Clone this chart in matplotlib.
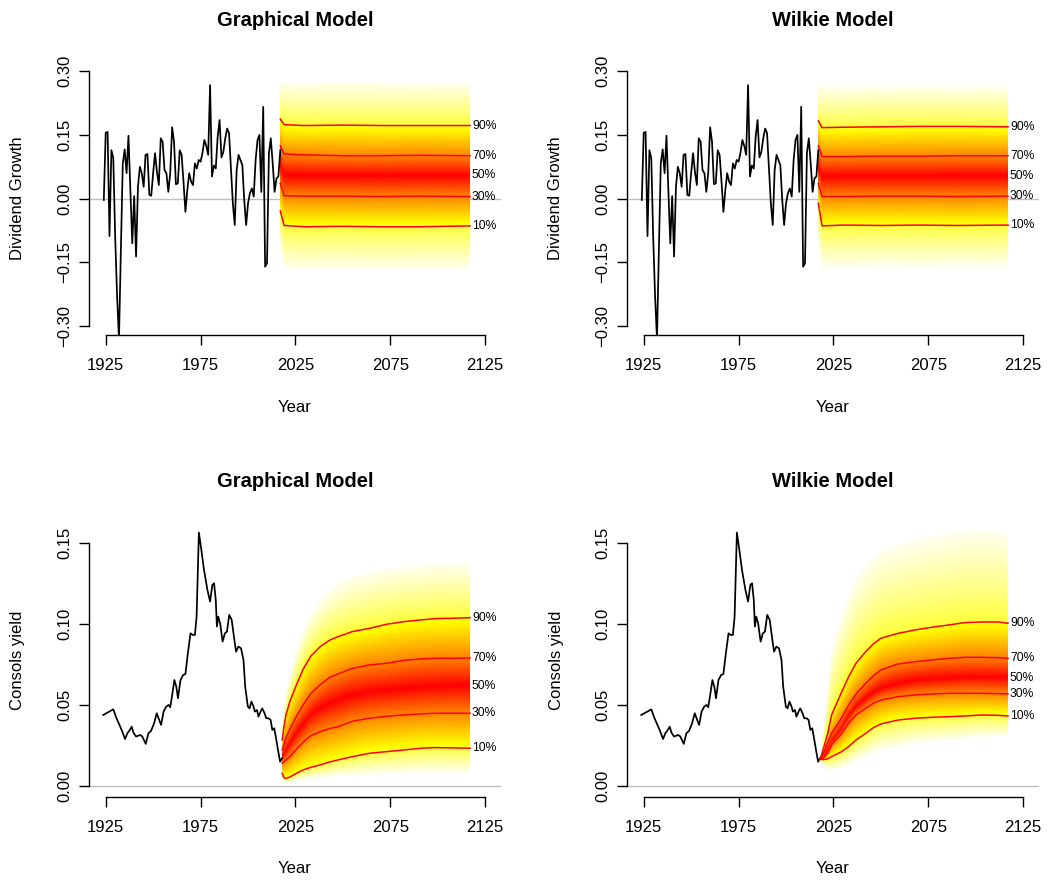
import numpy as np
import matplotlib
matplotlib.use("Agg")
import matplotlib.pyplot as plt

W, H = 1049, 888
plt.rcParams['font.family'] = ['Liberation Sans', 'DejaVu Sans']

# ---- history: dividend growth (annual) ----
div_years = np.arange(1924, 2018)
div_growth = [-0.003, 0.155, 0.157, -0.088, 0.114, 0.095, -0.090, -0.230, -0.330, -0.120,
              0.083, 0.116, 0.060, 0.148, 0.020, -0.105, 0.006, -0.136, 0.028, 0.075,
              0.060, 0.028, 0.103, 0.105, 0.009, 0.007, 0.060, 0.107, 0.063, 0.032,
              0.142, 0.134, 0.067, 0.060, 0.016, 0.060, 0.168, 0.134, 0.034, 0.036,
              0.114, 0.103, 0.040, -0.031, 0.020, 0.060, 0.040, 0.032, 0.083, 0.071,
              0.091, 0.087, 0.108, 0.138, 0.124, 0.103, 0.267, 0.052, 0.078, 0.071,
              0.146, 0.185, 0.097, 0.110, 0.142, 0.165, 0.154, 0.071, -0.011, -0.062,
              0.067, 0.103, 0.091, 0.079, -0.003, -0.062, -0.011, 0.013, 0.024, 0.005,
              0.091, 0.138, 0.150, 0.016, 0.216, -0.160, -0.152, 0.107, 0.142, 0.083,
              0.016, 0.048, 0.052, 0.114]

# ---- history: consols yield ----
cons_years = [1923.7, 1929.0, 1930.7, 1933.4, 1935.2, 1936.4, 1937.5, 1938.7, 1939.6, 1941.0,
              1943.1, 1944.3, 1946.1, 1947.5, 1948.9, 1950.5, 1951.9, 1953.2, 1954.2, 1955.5,
              1956.9, 1958.1, 1959.0, 1959.9, 1961.2, 1962.2, 1963.1, 1964.4, 1965.8, 1967.0,
              1968.3, 1969.7, 1970.9, 1972.0, 1972.9, 1974.1, 1975.4, 1976.8, 1978.6, 1980.0,
              1981.2, 1982.1, 1983.0, 1983.6, 1984.3, 1985.3, 1986.6, 1987.8, 1988.9, 1990.1,
              1991.4, 1992.8, 1993.7, 1994.9, 1996.3, 1997.6, 1998.5, 1999.9, 2000.8, 2001.8,
              2002.9, 2003.6, 2004.7, 2005.5, 2006.6, 2007.5, 2008.7, 2009.6, 2010.8, 2011.9,
              2012.8, 2013.8, 2014.6, 2015.8, 2016.9, 2017.9]
cons_yield = [0.0438, 0.0473, 0.0418, 0.0346, 0.0290, 0.0325, 0.0342, 0.0366, 0.0330, 0.0305,
              0.0315, 0.0305, 0.0260, 0.0325, 0.0340, 0.0387, 0.0449, 0.0407, 0.0377, 0.0459,
              0.0490, 0.0500, 0.0486, 0.0551, 0.0654, 0.0613, 0.0541, 0.0654, 0.0685, 0.0691,
              0.0819, 0.0942, 0.0932, 0.0932, 0.1045, 0.1564, 0.1457, 0.1333, 0.1210, 0.1138,
              0.1241, 0.1251, 0.1148, 0.0984, 0.1045, 0.1004, 0.0891, 0.0942, 0.0953, 0.1056,
              0.1025, 0.0901, 0.0829, 0.0860, 0.0850, 0.0778, 0.0613, 0.0490, 0.0479, 0.0521,
              0.0490, 0.0459, 0.0469, 0.0428, 0.0459, 0.0479, 0.0449, 0.0418, 0.0418, 0.0407,
              0.0346, 0.0356, 0.0305, 0.0222, 0.0150, 0.0171]

probs = [1, 10, 30, 50, 70, 90, 99]

# ---- fan quantiles: Graphical model, dividend growth ----
gd_years = [2017, 2019, 2030, 2050, 2070, 2090, 2117]
gd_q01 = [-0.115, -0.165, -0.168, -0.166, -0.168, -0.166, -0.167]
gd_q10 = [-0.029, -0.063, -0.066, -0.065, -0.066, -0.066, -0.064]
gd_q30 = [0.036, 0.007, 0.006, 0.006, 0.005, 0.006, 0.005]
gd_q50 = [0.080, 0.056, 0.055, 0.055, 0.054, 0.055, 0.055]
gd_q70 = [0.124, 0.105, 0.103, 0.101, 0.101, 0.102, 0.101]
gd_q90 = [0.187, 0.174, 0.172, 0.173, 0.172, 0.172, 0.172]
gd_q99 = [0.276, 0.275, 0.274, 0.276, 0.275, 0.274, 0.275]

# ---- fan quantiles: Wilkie model, dividend growth ----
wd_years = [2017, 2019, 2030, 2050, 2070, 2090, 2117]
wd_q01 = [-0.100, -0.160, -0.162, -0.160, -0.161, -0.160, -0.160]
wd_q10 = [-0.011, -0.064, -0.062, -0.063, -0.062, -0.063, -0.062]
wd_q30 = [0.036, 0.005, 0.005, 0.006, 0.006, 0.005, 0.006]
wd_q50 = [0.075, 0.053, 0.054, 0.054, 0.054, 0.054, 0.054]
wd_q70 = [0.124, 0.099, 0.099, 0.100, 0.100, 0.101, 0.101]
wd_q90 = [0.183, 0.167, 0.168, 0.169, 0.170, 0.170, 0.169]
wd_q99 = [0.270, 0.265, 0.266, 0.267, 0.266, 0.267, 0.266]

# ---- fan quantiles: Graphical model, consols yield ----
gc_years = [2018, 2019, 2020, 2022, 2025, 2029, 2033, 2038, 2043, 2047,
            2055, 2064, 2073, 2082, 2091, 2099, 2108, 2117]
gc_q01 = [0.003, 0.002, 0.0015, 0.002, 0.003, 0.004, 0.0045, 0.005, 0.0055, 0.006,
          0.0065, 0.007, 0.0075, 0.0078, 0.008, 0.008, 0.008, 0.008]
gc_q10 = [0.0078, 0.0050, 0.0047, 0.0055, 0.0075, 0.0099, 0.0115, 0.013, 0.0148, 0.016,
          0.0181, 0.0202, 0.0212, 0.0222, 0.0233, 0.0237, 0.0235, 0.0233]
gc_q30 = [0.014, 0.015, 0.016, 0.018, 0.022, 0.027, 0.031, 0.0335, 0.0355, 0.0364,
          0.040, 0.0418, 0.043, 0.0438, 0.0445, 0.0449, 0.0449, 0.0449]
gc_q50 = [0.018, 0.020, 0.022, 0.026, 0.032, 0.038, 0.044, 0.048, 0.051, 0.053,
          0.056, 0.058, 0.059, 0.060, 0.061, 0.0615, 0.062, 0.062]
gc_q70 = [0.0222, 0.026, 0.030, 0.035, 0.042, 0.050, 0.057, 0.0625, 0.067, 0.069,
          0.0726, 0.0747, 0.0757, 0.0775, 0.0784, 0.0788, 0.0788, 0.079]
gc_q90 = [0.0284, 0.037, 0.044, 0.052, 0.061, 0.072, 0.080, 0.086, 0.090, 0.092,
          0.0953, 0.0973, 0.0998, 0.1014, 0.1025, 0.1033, 0.1035, 0.1039]
gc_q99 = [0.040, 0.050, 0.058, 0.068, 0.082, 0.096, 0.106, 0.114, 0.120, 0.124,
          0.129, 0.132, 0.134, 0.135, 0.136, 0.137, 0.137, 0.137]

# ---- fan quantiles: Wilkie model, consols yield ----
wc_years = [2018, 2020, 2022, 2024, 2029, 2033, 2037, 2042, 2046, 2050,
            2059, 2068, 2077, 2086, 2094, 2103, 2112, 2117]
wc_q01 = [0.015, 0.012, 0.010, 0.0095, 0.011, 0.013, 0.0155, 0.018, 0.020, 0.0222,
          0.024, 0.0263, 0.0275, 0.0284, 0.029, 0.030, 0.0305, 0.0305]
wc_q10 = [0.0165, 0.0163, 0.0168, 0.0181, 0.021, 0.0243, 0.0285, 0.0325, 0.036, 0.0383,
          0.0407, 0.0418, 0.0424, 0.0428, 0.0432, 0.0438, 0.0436, 0.0432]
wc_q30 = [0.0165, 0.0175, 0.0205, 0.0253, 0.032, 0.0387, 0.044, 0.0479, 0.051, 0.0531,
          0.0551, 0.0562, 0.0568, 0.0572, 0.0572, 0.0572, 0.057, 0.0568]
wc_q50 = [0.0165, 0.019, 0.022, 0.027, 0.035, 0.043, 0.049, 0.054, 0.0575, 0.060,
          0.063, 0.065, 0.066, 0.0665, 0.067, 0.067, 0.067, 0.0667]
wc_q70 = [0.0165, 0.021, 0.027, 0.0325, 0.0415, 0.050, 0.057, 0.0634, 0.068, 0.0716,
          0.0753, 0.0767, 0.0778, 0.0788, 0.0794, 0.0794, 0.0792, 0.0788]
wc_q90 = [0.0165, 0.0243, 0.0325, 0.0438, 0.0572, 0.0675, 0.0760, 0.0829, 0.0877, 0.0912,
          0.0942, 0.0963, 0.098, 0.0994, 0.1008, 0.1012, 0.1012, 0.1004]
wc_q99 = [0.018, 0.040, 0.062, 0.085, 0.105, 0.118, 0.128, 0.136, 0.141, 0.145,
          0.149, 0.152, 0.154, 0.156, 0.157, 0.158, 0.157, 0.155]

div_ticks = [-0.30, -0.15, 0.00, 0.15, 0.30]
div_ticklabels = ['\u22120.30', '\u22120.15', '0.00', '0.15', '0.30']
cons_ticks = [0.00, 0.05, 0.10, 0.15]
cons_ticklabels = ['0.00', '0.05', '0.10', '0.15']
year_ticks = [1925, 1975, 2025, 2075, 2125]

XLIM = (1916.2, 2133.3)
DIV_YLIM = (-0.3205, 0.3214)
CONS_YLIM = (-0.0068, 0.1623)

fig = plt.figure(figsize=(W / 100, H / 100), dpi=100)


def rect(x0, y0, x1, y1):
    return [x0 / W, 1 - y1 / H, (x1 - x0) / W, (y1 - y0) / H]


def ftext(x, y, s, **kw):
    fig.text(x / W, 1 - y / H, s, **kw)


def draw_fan(ax, fyears, qs, ylim):
    # shade between the read quantile curves: red centre -> yellow -> near white
    xs = np.linspace(fyears[0], fyears[-1], 600)
    ys = np.linspace(ylim[0], ylim[1], 800)
    Q = np.array([np.interp(xs, fyears, q) for q in qs])
    img = np.zeros((len(ys), len(xs), 4))
    for j in range(len(xs)):
        col = Q[:, j]
        p = np.interp(ys, col, probs)
        inside = (ys >= col[0]) & (ys <= col[-1])
        d = np.clip(np.abs(p - 50) / 49, 0, 1)
        img[:, j, 0] = 1
        img[:, j, 1] = np.clip(d / 0.78, 0, 1)
        img[:, j, 2] = np.clip((d - 0.78) / 0.22, 0, 1) ** 0.8 * 0.95
        img[:, j, 3] = inside
    ax.imshow(img, origin='lower', extent=(xs[0], xs[-1], ys[0], ys[-1]),
              aspect='auto', interpolation='bilinear', zorder=2)


def panel(x0, y0, x1, y1, hx, hy, fyears, qs, ylim, yticks, ytl):
    ax = fig.add_axes(rect(x0, y0, x1, y1))
    ax.axhline(0, color='#bebebe', lw=1.0, zorder=1)
    draw_fan(ax, fyears, qs, ylim)
    ax.plot(hx, hy, color='black', lw=1.25, zorder=3)
    for q in (qs[1], qs[2], qs[4], qs[5]):
        ax.plot(fyears, q, color='#ff0000', lw=1.1, zorder=4)
    for p, q in zip(probs[1:6], qs[1:6]):
        ax.text(fyears[-1] + 1.0, q[-1], f'{p}%', fontsize=8.7, ha='left',
                va='center', zorder=5)
    ax.set_xlim(*XLIM)
    ax.set_ylim(*ylim)
    ax.set_xticks(year_ticks)
    ax.set_xticklabels([str(t) for t in year_ticks])
    ax.set_yticks(yticks)
    ax.set_yticklabels(ytl)
    for s in ('top', 'right'):
        ax.spines[s].set_visible(False)
    ax.spines['left'].set_bounds(yticks[0], yticks[-1])
    ax.spines['bottom'].set_bounds(year_ticks[0], year_ticks[-1])
    for s in ('left', 'bottom'):
        ax.spines[s].set_linewidth(1.0)
    ax.tick_params(length=7.2, width=1.0, labelsize=12, direction='out')
    ax.tick_params(axis='x', pad=9)
    ax.tick_params(axis='y', pad=5)
    plt.setp(ax.get_yticklabels(), rotation=90, va='center')
    ax.patch.set_alpha(0)
    return ax


panel(89, 62, 501, 335, div_years, div_growth, gd_years,
      [gd_q01, gd_q10, gd_q30, gd_q50, gd_q70, gd_q90, gd_q99],
      DIV_YLIM, div_ticks, div_ticklabels)
panel(627, 62, 1039, 335, div_years, div_growth, wd_years,
      [wd_q01, wd_q10, wd_q30, wd_q50, wd_q70, wd_q90, wd_q99],
      DIV_YLIM, div_ticks, div_ticklabels)
panel(89, 523, 501, 797, cons_years, cons_yield, gc_years,
      [gc_q01, gc_q10, gc_q30, gc_q50, gc_q70, gc_q90, gc_q99],
      CONS_YLIM, cons_ticks, cons_ticklabels)
panel(627, 523, 1039, 797, cons_years, cons_yield, wc_years,
      [wc_q01, wc_q10, wc_q30, wc_q50, wc_q70, wc_q90, wc_q99],
      CONS_YLIM, cons_ticks, cons_ticklabels)

# titles and axis labels
for cx, title in ((295, 'Graphical Model'), (833, 'Wilkie Model')):
    ftext(cx, 20, title, fontsize=14.5, fontweight='bold', ha='center', va='center')
    ftext(cx, 481, title, fontsize=14.5, fontweight='bold', ha='center', va='center')
    ftext(cx, 407, 'Year', fontsize=12, ha='center', va='center')
    ftext(cx, 868, 'Year', fontsize=12, ha='center', va='center')
for lx in (18, 556):
    ftext(lx, 198, 'Dividend Growth', fontsize=12, rotation=90, ha='center', va='center')
    ftext(lx, 660, 'Consols yield', fontsize=12, rotation=90, ha='center', va='center')

fig.savefig('out.png', dpi=100)
